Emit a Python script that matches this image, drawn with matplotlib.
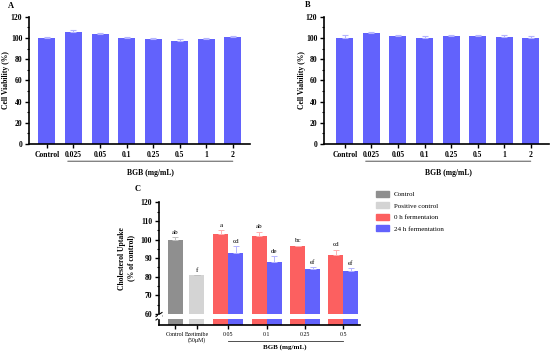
import matplotlib
matplotlib.use("Agg")
import matplotlib.pyplot as plt
import numpy as np

plt.rcParams['font.family'] = ['Liberation Serif', 'DejaVu Serif']

# ---- data ----
cv_labels = ["Control", "0.025", "0.05", "0.1", "0.25", "0.5", "1", "2"]
cv_a = [100, 105.5, 103.5, 100, 99, 97.5, 99, 100.5]
cv_a_err = [1.0, 1.5, 0.8, 0.8, 1.2, 1.2, 1.0, 1.2]
cv_b = [100, 105, 101.5, 100, 101.5, 101.5, 100.5, 100]
cv_b_err = [3.0, 0.6, 1.2, 2.0, 1.0, 1.0, 2.0, 1.5]

c_single_labels = ["Control", "Ezetimibe\n(50μM)"]
c_single = [100, 81]
c_single_err = [1.5, 0.0]
c_single_letters = ["ab", "f"]
c_conc = ["0.05", "0.1", "0.25", "0.5"]
c_0h = [103.2, 101.8, 96.4, 91.6]
c_0h_err = [2.0, 2.5, 0.3, 3.0]
c_0h_letters = ["a", "ab", "bc", "cd"]
c_24h = [93.0, 88.2, 84.0, 83.0]
c_24h_err = [3.5, 3.0, 1.0, 1.5]
c_24h_letters = ["cd", "de", "ef", "ef"]
legend_labels = ["Control", "Positive control", "0 h fermentaion", "24 h fermentation"]

BLUE = "#6262fc"
BLUE_ERR = "#b4b4ff"
RED = "#fc6060"
RED_ERR = "#ffb0b0"
GRAY = "#8f8f8f"
LGRAY = "#d4d4d4"

W, H = 550, 352
fig = plt.figure(figsize=(5.5, 3.52), dpi=100)

def ax_px(l, t, r, b):
    return fig.add_axes([l / W, 1 - b / H, (r - l) / W, (b - t) / H])

def viability(ax, vals, errs, xl, xr, label_x_px):
    x = np.arange(len(vals))
    ax.bar(x, vals, width=0.64, color=BLUE, zorder=2)
    ax.errorbar(x, vals, yerr=[np.zeros(len(errs)), errs], fmt="none",
                ecolor=BLUE_ERR, elinewidth=0.8, capsize=2.5, capthick=0.8, zorder=3)
    ax.set_xlim(xl, xr)
    ax.set_ylim(0, 120)
    ax.set_yticks(np.arange(0, 121, 20))
    ax.set_yticks(np.arange(0, 121, 10), minor=True)
    ax.set_xticks(x)
    ax.set_xticklabels(cv_labels, fontsize=5.5, fontweight="bold")
    for lab in ax.get_yticklabels():
        lab.set_fontsize(5.5)
        lab.set_fontweight("bold")
    ax.tick_params(axis="both", which="major", length=3, width=1, pad=2)
    ax.tick_params(axis="y", which="minor", length=1.8, width=0.8)
    ax.spines["top"].set_visible(False)
    ax.spines["right"].set_visible(False)
    ax.spines["left"].set_linewidth(1.2)
    ax.spines["bottom"].set_linewidth(1.2)
    ax.set_ylabel("Cell Viability (%)", fontsize=5.5, fontweight="bold")
    ax.yaxis.label.set_verticalalignment("center")
    bb = ax.get_position()
    ax.yaxis.set_label_coords((label_x_px / W - bb.x0) / bb.width, 0.5)

# Panel A
axA = ax_px(29.3, 16.7, 250, 144)
viability(axA, cv_a, cv_a_err, -0.66, 7.64, 6.5)
axA.annotate("", xy=(0.68, -0.135), xytext=(7.1, -0.135), xycoords=("data", "axes fraction"),
             arrowprops=dict(arrowstyle="-", lw=0.6, color="#333333"))
axA.text(3.9, -0.2, "BGB (mg/mL)", transform=axA.get_xaxis_transform(),
         ha="center", va="top", fontsize=5.5, fontweight="bold")
fig.text(8 / W, 1 - 6 / H, "A", fontsize=6, fontweight="bold", va="center")

# Panel B
axB = ax_px(324.3, 16.7, 549, 144)
viability(axB, cv_b, cv_b_err, -0.77, 7.68, 302)
axB.annotate("", xy=(0.68, -0.135), xytext=(7.1, -0.135), xycoords=("data", "axes fraction"),
             arrowprops=dict(arrowstyle="-", lw=0.6, color="#333333"))
axB.text(3.9, -0.2, "BGB (mg/mL)", transform=axB.get_xaxis_transform(),
         ha="center", va="top", fontsize=5.5, fontweight="bold")
fig.text(305 / W, 1 - 5 / H, "B", fontsize=6, fontweight="bold", va="center")

# Panel C
pos_single = [0.42, 0.99]
pos_group = [1.81, 2.81, 3.82, 4.81]
bw = 0.39
xl, xr = 0, 5.25

axC = ax_px(159, 202.3, 360, 314)
axCb = ax_px(159, 318.5, 360, 325)

cols_single = [GRAY, LGRAY]
for ax in (axC, axCb):
    for p, v, c in zip(pos_single, c_single, cols_single):
        ax.bar(p, v, width=bw, color=c, zorder=2)
    ax.bar(np.array(pos_group) - bw / 2, c_0h, width=bw, color=RED, zorder=2)
    ax.bar(np.array(pos_group) + bw / 2, c_24h, width=bw, color=BLUE, zorder=2)
    ax.set_xlim(xl, xr)
    ax.spines["top"].set_visible(False)
    ax.spines["right"].set_visible(False)
    ax.spines["left"].set_linewidth(1.2)
    ax.spines["bottom"].set_linewidth(1.2)

axC.set_ylim(60, 120)
axC.spines["bottom"].set_visible(False)
axC.set_xticks([])
axC.set_yticks(np.arange(60, 121, 10))
axC.set_yticks(np.arange(60, 121, 5), minor=True)
axC.tick_params(axis="y", which="major", length=3, width=1, pad=2)
axC.tick_params(axis="y", which="minor", length=1.8, width=0.8)
for lab in axC.get_yticklabels():
    lab.set_fontsize(5.5)
    lab.set_fontweight("bold")
axC.set_ylabel("Cholesterol Uptake\n(% of control)", fontsize=5.5, fontweight="bold", labelpad=4,
               linespacing=1.2)

axCb.set_ylim(0, 1)
axCb.set_yticks([])
axCb.set_xticks(pos_single + pos_group)
axCb.set_xticklabels(c_single_labels + c_conc, fontsize=4.2, linespacing=1.15)
axCb.tick_params(axis="x", length=3, width=1, pad=2)

# error bars + letters
axC.errorbar(pos_single, c_single, yerr=[[0, 0], c_single_err], fmt="none",
             ecolor="#c0c0c0", elinewidth=0.7, capsize=2.5, capthick=0.7, zorder=3)
axC.errorbar(np.array(pos_group) - bw / 2, c_0h, yerr=[np.zeros(4), c_0h_err], fmt="none",
             ecolor=RED_ERR, elinewidth=0.7, capsize=2.5, capthick=0.7, zorder=3)
axC.errorbar(np.array(pos_group) + bw / 2, c_24h, yerr=[np.zeros(4), c_24h_err], fmt="none",
             ecolor=BLUE_ERR, elinewidth=0.7, capsize=2.5, capthick=0.7, zorder=3)
for p, v, e, t in zip(pos_single, c_single, c_single_err, c_single_letters):
    axC.text(p, v + e + 1.2, t, ha="center", va="bottom", fontsize=5)
for p, v, e, t in zip(np.array(pos_group) - bw / 2, c_0h, c_0h_err, c_0h_letters):
    axC.text(p, v + e + 1.2, t, ha="center", va="bottom", fontsize=5)
for p, v, e, t in zip(np.array(pos_group) + bw / 2, c_24h, c_24h_err, c_24h_letters):
    axC.text(p, v + e + 1.2, t, ha="center", va="bottom", fontsize=5)

# break marks
for yy in (314.5, 318):
    fig.add_artist(plt.Line2D([156 / W, 162 / W], [1 - (yy + 2) / H, 1 - (yy - 2) / H],
                              color="black", lw=0.8))
fig.add_artist(plt.Rectangle((157.5 / W, 1 - 318 / H), 3 / W, 3.2 / H, color="white", zorder=5))

# BGB bracket
fig.add_artist(plt.Line2D([228 / W, 343 / W], [1 - 341 / H, 1 - 341 / H], color="#333333", lw=0.6))
fig.text(285 / W, 1 - 347 / H, "BGB (mg/mL)", ha="center", va="center", fontsize=5, fontweight="bold")
fig.text(135 / W, 1 - 189 / H, "C", fontsize=6, fontweight="bold", va="center")

# legend
handles = [plt.Rectangle((0, 0), 1, 1, color=c) for c in [GRAY, LGRAY, RED, BLUE]]
fig.legend(handles, legend_labels, loc="upper left", bbox_to_anchor=(376 / W, 1 - 191 / H),
           frameon=False, fontsize=5, handlelength=1.8, handleheight=0.9, labelspacing=0.75,
           handletextpad=0.8, borderaxespad=0, borderpad=0)

fig.savefig("out.png", dpi=100)
